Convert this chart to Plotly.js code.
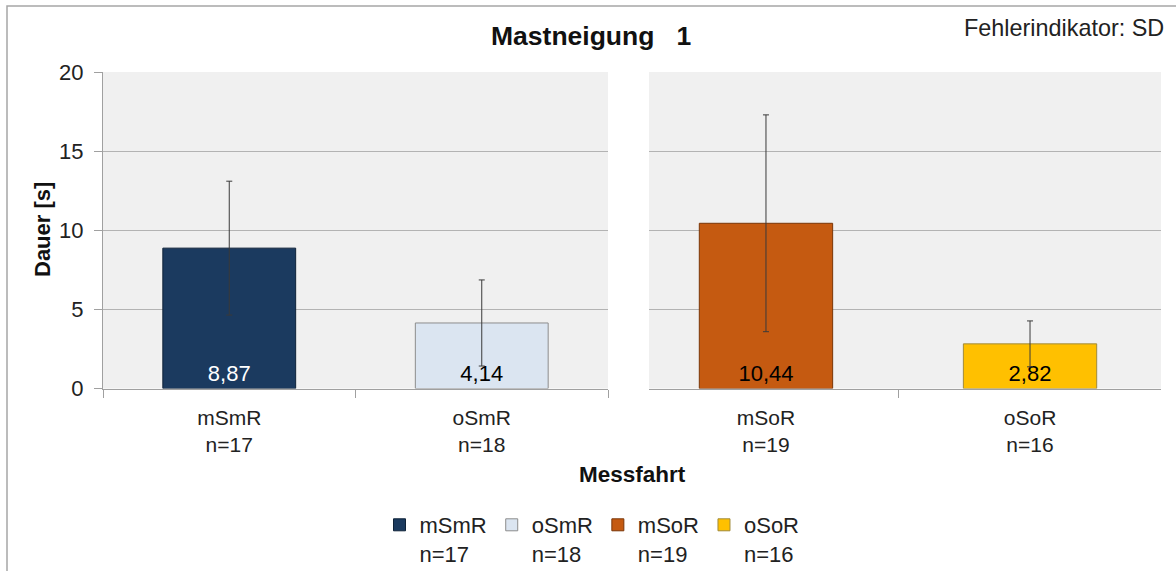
<!DOCTYPE html>
<html>
<head>
<meta charset="utf-8">
<script src="https://cdn.plot.ly/plotly-3.0.1.min.js"></script>
<style>html,body{margin:0;padding:0;background:#fff;}#chart{width:1176px;height:571px;}</style>
</head>
<body>
<div id="chart"></div>
<script>
// ---- data ----
const categories = ['mSmR', 'oSmR', 'mSoR', 'oSoR'];
const nCounts = [17, 18, 19, 16];
const means = [8.87, 4.14, 10.44, 2.82];
const sds = [4.23, 2.72, 6.85, 1.45];
const fillColors = ['#1b3a5f', '#dbe5f1', '#c55a11', '#ffc000'];
const borderColors = ['#0e2238', '#8c8c8c', '#7a3608', '#a08a3a'];
const labelColors = ['#ffffff', '#000000', '#000000', '#000000'];
const panelOf = [0, 0, 1, 1];
const yTicks = [0, 5, 10, 15, 20];

const W = 1176, H = 571;
const px = v => v / W, py = v => 1 - v / H;
const FONT = 'Liberation Sans, Arial, sans-serif';

const fmt = v => v.toFixed(2).replace('.', ',');
const label = i => categories[i] + '<br>n=' + nCounts[i];

const traces = categories.map((c, i) => ({
  type: 'bar',
  name: label(i),
  x: [label(i)],
  y: [means[i]],
  xaxis: panelOf[i] === 0 ? 'x' : 'x2',
  yaxis: panelOf[i] === 0 ? 'y' : 'y2',
  width: panelOf[i] === 0 ? 0.526 : 0.505,
  marker: {color: fillColors[i], line: {color: borderColors[i], width: 1}},
  text: [fmt(means[i])],
  textposition: 'inside',
  insidetextanchor: 'start',
  constraintext: 'none',
  textangle: 0,
  textfont: {family: FONT, size: 22, color: labelColors[i]},
  error_y: {type: 'data', array: [sds[i]], visible: true, color: '#3a3a3a', thickness: 1, width: 3},
  hoverinfo: 'none'
}));

const leftCats = categories.map((c, i) => i).filter(i => panelOf[i] === 0).map(label);
const rightCats = categories.map((c, i) => i).filter(i => panelOf[i] === 1).map(label);

const xBase = {
  type: 'category', showline: true, linecolor: '#a0a0a0', linewidth: 1,
  ticks: 'outside', tickson: 'boundaries', ticklen: 8, tickcolor: '#a0a0a0',
  showgrid: false, zeroline: false, fixedrange: true, automargin: false,
  ticklabelstandoff: 10,
  tickfont: {family: FONT, size: 21, color: '#222'}
};
const yBase = {
  range: [0, 20], tickvals: yTicks, showgrid: true, gridcolor: '#b3b3b3', gridwidth: 1,
  zeroline: false, domain: [py(388.5), py(72)], fixedrange: true, automargin: false
};

const layout = {
  width: W, height: H,
  margin: {l: 0, r: 0, t: 0, b: 0, autoexpand: false},
  paper_bgcolor: '#ffffff',
  plot_bgcolor: '#f0f0f0',
  barmode: 'overlay',
  showlegend: true,
  font: {family: FONT, color: '#222'},
  xaxis: Object.assign({}, xBase, {domain: [px(103), px(608)], categoryarray: leftCats, categoryorder: 'array', range: [-0.5, 1.5], anchor: 'y'}),
  xaxis2: Object.assign({}, xBase, {domain: [px(649), px(1161)], categoryarray: rightCats, categoryorder: 'array', range: [-0.443, 1.496], anchor: 'y2'}),
  yaxis: Object.assign({}, yBase, {
    anchor: 'x', showline: true, linecolor: '#a0a0a0', ticks: 'outside', ticklen: 8, tickcolor: '#a0a0a0',
    tickfont: {family: FONT, size: 22, color: '#222'}, ticklabelstandoff: 6
  }),
  yaxis2: Object.assign({}, yBase, {anchor: 'x2', matches: 'y', showticklabels: false, showline: false, ticks: ''}),
  legend: {
    orientation: 'h', x: px(592), xanchor: 'center', y: py(504), yanchor: 'top',
    valign: 'top', font: {family: FONT, size: 22, color: '#222'},
    itemwidth: 30, traceorder: 'normal', bgcolor: 'rgba(0,0,0,0)'
  },
  annotations: [
    {text: 'Mastneigung\u00a0\u00a0 1', xref: 'paper', yref: 'paper', x: px(590.5), y: py(36), xanchor: 'center', yanchor: 'middle', showarrow: false, font: {family: FONT, size: 26.5, color: '#111', weight: 'bold'}},
    {text: 'Fehlerindikator: SD', xref: 'paper', yref: 'paper', x: px(1166), y: py(28), xanchor: 'right', yanchor: 'middle', showarrow: false, font: {family: FONT, size: 23.4, color: '#222'}},
    {text: 'Dauer [s]', xref: 'paper', yref: 'paper', x: px(42), y: py(230), xanchor: 'center', yanchor: 'middle', textangle: -90, showarrow: false, font: {family: FONT, size: 22, color: '#111', weight: 'bold'}},
    {text: 'Messfahrt', xref: 'paper', yref: 'paper', x: px(632), y: py(474), xanchor: 'center', yanchor: 'middle', showarrow: false, font: {family: FONT, size: 22.5, color: '#111', weight: 'bold'}}
  ],
  shapes: [
    {type: 'rect', xref: 'paper', yref: 'paper', x0: px(7), x1: 1.02, y0: -0.02, y1: py(6), line: {color: '#a6a6a6', width: 1.5}, fillcolor: 'rgba(0,0,0,0)', layer: 'above'}
  ]
};

Plotly.newPlot('chart', traces, layout, {staticPlot: true, displayModeBar: false});
</script>
</body>
</html>
